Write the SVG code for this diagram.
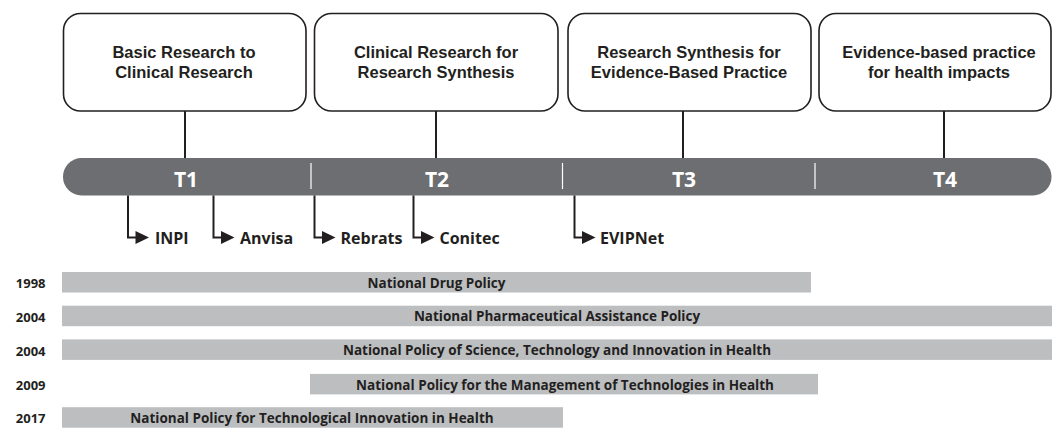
<svg xmlns="http://www.w3.org/2000/svg" width="1052" height="429" viewBox="0 0 1052 429">
  <style>
    .box { fill: #ffffff; stroke: #231f20; stroke-width: 1.6; }
    .boxlabel { font-family: "Liberation Sans", Arial, sans-serif; font-weight: 700; font-size: 16.5px; fill: #231f20; text-anchor: middle; }
    .stem { stroke: #231f20; stroke-width: 2; fill: none; }
    .track { fill: #6d6e71; }
    .divider { stroke: #ffffff; stroke-width: 1.2; }
    .phase { font-family: "Open Sans", "Liberation Sans", sans-serif; font-weight: 700; font-size: 21px; fill: #ffffff; text-anchor: middle; }
    .branch { stroke: #231f20; stroke-width: 2; fill: none; }
    .head { fill: #231f20; }
    .agency { font-family: "Open Sans", "Liberation Sans", sans-serif; font-weight: 700; font-size: 16px; fill: #231f20; }
    .policy { fill: #bcbec0; }
    .policylabel { font-family: "Open Sans", "Liberation Sans", sans-serif; font-weight: 700; font-size: 13.5px; fill: #231f20; text-anchor: middle; }
    .year { font-family: "Open Sans", "Liberation Sans", sans-serif; font-weight: 700; font-size: 13px; fill: #231f20; text-anchor: end; }
  </style>

  <!-- Translational phase boxes -->
  <g id="box-t1">
    <rect class="box" x="63.5" y="13.5" width="242.5" height="97.5" rx="17" ry="17"/>
    <text class="boxlabel" x="184" y="58">Basic Research to</text>
    <text class="boxlabel" x="184" y="77.5">Clinical Research</text>
  </g>
  <g id="box-t2">
    <rect class="box" x="314.5" y="13.5" width="243.5" height="97.5" rx="17" ry="17"/>
    <text class="boxlabel" x="436" y="58">Clinical Research for</text>
    <text class="boxlabel" x="436" y="77.5">Research Synthesis</text>
  </g>
  <g id="box-t3">
    <rect class="box" x="568" y="13.5" width="243" height="97.5" rx="17" ry="17"/>
    <text class="boxlabel" x="689" y="58">Research Synthesis for</text>
    <text class="boxlabel" x="689" y="77.5">Evidence-Based Practice</text>
  </g>
  <g id="box-t4">
    <rect class="box" x="819" y="13.5" width="232" height="97.5" rx="17" ry="17"/>
    <text class="boxlabel" x="939" y="58">Evidence-based practice</text>
    <text class="boxlabel" x="939" y="77.5">for health impacts</text>
  </g>

  <!-- Phase track -->
  <g id="track">
    <rect class="track" x="63" y="158" width="988.5" height="37.5" rx="18.5" ry="18.5"/>
    <line class="divider" x1="311" y1="163" x2="311" y2="189"/>
    <line class="divider" x1="562.5" y1="163" x2="562.5" y2="189"/>
    <line class="divider" x1="815" y1="163" x2="815" y2="189"/>
    <text class="phase" x="186" y="187">T1</text>
    <text class="phase" x="437" y="187">T2</text>
    <text class="phase" x="684" y="187">T3</text>
    <text class="phase" x="945" y="187">T4</text>
  </g>

  <!-- Connectors: box stems and agency branches -->
  <g id="connectors">
    <line class="stem" x1="185" y1="111" x2="185" y2="158"/>
    <line class="stem" x1="436" y1="111" x2="436" y2="158"/>
    <line class="stem" x1="683" y1="111" x2="683" y2="158"/>
    <line class="stem" x1="944" y1="111" x2="944" y2="158"/>

    <path class="branch" d="M128,195.5 V237.5 H137"/>
    <path class="head" d="M135.5,231 L149,237.5 L135.5,244 Z"/>
    <path class="branch" d="M213.5,195.5 V237.5 H222.5"/>
    <path class="head" d="M221,231 L234.5,237.5 L221,244 Z"/>
    <path class="branch" d="M314.5,195.5 V237.5 H323.5"/>
    <path class="head" d="M322,231 L335.5,237.5 L322,244 Z"/>
    <path class="branch" d="M413.5,195.5 V237.5 H422.5"/>
    <path class="head" d="M421,231 L434.5,237.5 L421,244 Z"/>
    <path class="branch" d="M574.5,195.5 V237.5 H583.5"/>
    <path class="head" d="M582,231 L595.5,237.5 L582,244 Z"/>
  </g>

  <!-- Agencies -->
  <g id="agency-inpi"><text class="agency" x="155" y="244">INPI</text></g>
  <g id="agency-anvisa"><text class="agency" x="240" y="244">Anvisa</text></g>
  <g id="agency-rebrats"><text class="agency" x="340.5" y="244">Rebrats</text></g>
  <g id="agency-conitec"><text class="agency" x="439.5" y="244">Conitec</text></g>
  <g id="agency-evipnet"><text class="agency" x="600" y="244">EVIPNet</text></g>

  <!-- Policy timeline -->
  <g id="policy-1998">
    <text class="year" x="45.5" y="288">1998</text>
    <rect class="policy" x="62" y="272" width="749" height="20.5"/>
    <text class="policylabel" x="436.5" y="287.5">National Drug Policy</text>
  </g>
  <g id="policy-2004a">
    <text class="year" x="45.5" y="321.5">2004</text>
    <rect class="policy" x="62" y="305.7" width="990" height="20.5"/>
    <text class="policylabel" x="557" y="321">National Pharmaceutical Assistance Policy</text>
  </g>
  <g id="policy-2004b">
    <text class="year" x="45.5" y="355.5">2004</text>
    <rect class="policy" x="62" y="339.4" width="990" height="20.5"/>
    <text class="policylabel" x="557" y="355">National Policy of Science, Technology and Innovation in Health</text>
  </g>
  <g id="policy-2009">
    <text class="year" x="45.5" y="390">2009</text>
    <rect class="policy" x="310" y="373.9" width="508" height="20.5"/>
    <text class="policylabel" x="565" y="389.5">National Policy for the Management of Technologies in Health</text>
  </g>
  <g id="policy-2017">
    <text class="year" x="45.5" y="423">2017</text>
    <rect class="policy" x="62" y="407.2" width="501" height="20.5"/>
    <text class="policylabel" x="312" y="423">National Policy for Technological Innovation in Health</text>
  </g>
</svg>
